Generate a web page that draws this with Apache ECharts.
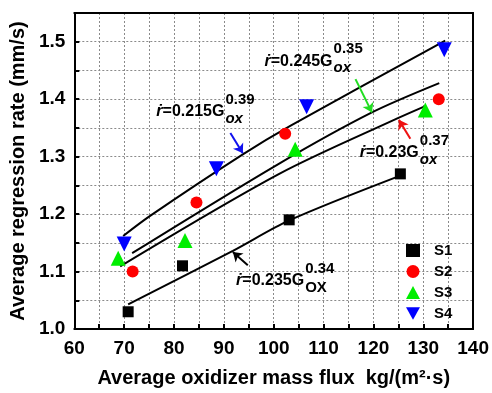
<!DOCTYPE html>
<html><head><meta charset="utf-8">
<script src="https://cdn.jsdelivr.net/npm/echarts@6/dist/echarts.min.js"></script>
<style>html,body{margin:0;padding:0;background:#fff}#c{width:492px;height:393px}</style>
</head><body><div id="c"></div>
<script>
// ---- data ----
const xTickValues = [60, 70, 80, 90, 100, 110, 120, 130, 140];
const yTickValues = [1.0, 1.1, 1.2, 1.3, 1.4, 1.5];
const seriesNames = ['S1', 'S2', 'S3', 'S4'];
const s1X = [70.8, 81.7, 103.1, 125.4];
const s1Y = [1.03, 1.11, 1.19, 1.27];
const s2X = [71.7, 84.5, 102.3, 133.1];
const s2Y = [1.10, 1.22, 1.34, 1.40];
const s3X = [68.8, 82.2, 104.3, 130.4];
const s3Y = [1.123, 1.154, 1.313, 1.381];
const s4X = [70.0, 88.5, 106.6, 134.2];
const s4Y = [1.148, 1.279, 1.387, 1.486];
// fitted curves as drawn
const fitAX = [69.8, 75.2, 93.8, 103.4, 134.4];
const fitAY = [1.162, 1.197, 1.304, 1.354, 1.502];
const fitBX = [71.6, 101.1, 119.7, 133.2];
const fitBY = [1.132, 1.288, 1.377, 1.428];
const fitCX = [69.2, 101.1, 124.9, 130.4];
const fitCY = [1.109, 1.270, 1.367, 1.388];
const fitDX = [70.8, 91.8, 103.1, 125.4];
const fitDY = [1.043, 1.136, 1.189, 1.267];
// annotation texts: coefficient, exponent, subscript, anchor (x,y), arrow from/to, arrow colour
const annCoef = ['0.215', '0.245', '0.23', '0.235'];
const annExp = ['0.39', '0.35', '0.37', '0.34'];
const annSub = ['ox', 'ox', 'ox', 'OX'];
const annAnchorX = [90.1, 111.8, 129.1, 106.1];
const annAnchorY = [1.378, 1.466, 1.307, 1.084];
const arrowFromX = [91.3, 116.4, 127.4, 94.8];
const arrowFromY = [1.341, 1.435, 1.331, 1.111];
const arrowToX = [93.8, 119.7, 125.1, 91.8];
const arrowToY = [1.306, 1.377, 1.364, 1.134];
const arrowColors = ['#1010ee', '#22dd22', '#ee1111', '#000000'];

const FONT = '"Liberation Sans", Arial, sans-serif';
const zip = (a, b) => a.map((v, i) => [v, b[i]]);
const chart = echarts.init(document.getElementById('c'));

function fitSeries(xs, ys, k) {
  return {
    type: 'line', name: 'fit' + k, data: zip(xs, ys), smooth: 0.3,
    showSymbol: false, symbol: 'none', z: 3, silent: true,
    lineStyle: { color: '#000', width: 2 }
  };
}
const arrowSeries = {
  type: 'scatter', name: 'arrows', data: [], silent: true, z: 4,
  markLine: {
    silent: true, symbol: ['none', 'arrow'], symbolSize: 9, precision: 4,
    label: { show: false }, animation: false,
    data: arrowColors.map((c, k) => [
      { coord: [arrowFromX[k], arrowFromY[k]], lineStyle: { color: c, width: 2, type: 'solid' }, itemStyle: { color: c } },
      { coord: [arrowToX[k], arrowToY[k]] }
    ])
  }
};
const colors = ['#000000', '#ff0000', '#00ee00', '#0000ff'];
const symbols = ['rect', 'circle', 'triangle', 'path://M0,0 L10,0 L5,9 Z'];
const sizes = [11, 12, 15, 15];
const pts = [zip(s1X, s1Y), zip(s2X, s2Y), zip(s3X, s3Y), zip(s4X, s4Y)];

const xMin = xTickValues[0], xMax = xTickValues[xTickValues.length - 1];
const yMin = yTickValues[0], yMax = 1.55;
const isMajor = (v, step) => Math.abs(v / step - Math.round(v / step)) < 1e-6;

function mainAxis() {
  return {
    type: 'value',
    axisLine: { show: true, onZero: false, lineStyle: { color: '#000', width: 2 } },
    axisTick: { show: true, inside: true, length: 5, lineStyle: { color: '#000', width: 2 } },
    splitLine: { show: true, lineStyle: { color: '#8a8a8a', type: [2, 2], width: 1 } },
    nameTextStyle: { fontFamily: FONT, fontWeight: 'bold', fontSize: 20, color: '#000' }
  };
}
const frameAxis = (type, pos) => ({
  type: 'value', position: pos, min: type === 'x' ? xMin : yMin, max: type === 'x' ? xMax : yMax,
  axisLine: { show: true, onZero: false, lineStyle: { color: '#000', width: 2 } },
  axisTick: { show: false }, axisLabel: { show: false }, splitLine: { show: false }
});

chart.setOption({
  animation: false,
  backgroundColor: '#fff',
  grid: { left: 74, right: 16, top: 13, bottom: 58 },
  xAxis: [Object.assign(mainAxis(), {
    position: 'bottom', min: xMin, max: xMax, interval: 5,
    name: 'Average oxidizer mass flux  kg/(m²·s)', nameLocation: 'middle', nameGap: 39,
    axisLabel: { fontFamily: FONT, fontWeight: 'bold', fontSize: 19, color: '#000', margin: 10,
      formatter: v => (isMajor(v, 10) ? String(v) : '') }
  }), frameAxis('x', 'top')],
  yAxis: [Object.assign(mainAxis(), {
    position: 'left', min: yMin, max: yMax, interval: 0.05,
    name: 'Average regression rate (mm/s)', nameLocation: 'middle', nameGap: 41,
    axisLabel: { fontFamily: FONT, fontWeight: 'bold', fontSize: 19, color: '#000', margin: 9,
      formatter: v => (isMajor(v, 0.1) ? v.toFixed(1) : '') }
  }), frameAxis('y', 'right')],
  legend: {
    orient: 'vertical', left: 401, top: 238, itemWidth: 14, itemHeight: 13, itemGap: 6,
    data: seriesNames,
    textStyle: { fontFamily: FONT, fontWeight: 'bold', fontSize: 15, lineHeight: 13, color: '#000', padding: [0, 0, 0, 9] }
  },
  series: [
    fitSeries(fitAX, fitAY, 0), fitSeries(fitBX, fitBY, 1),
    fitSeries(fitCX, fitCY, 2), fitSeries(fitDX, fitDY, 3), arrowSeries
  ].concat(seriesNames.map((n, i) => ({
    type: 'scatter', name: n, data: pts[i], symbol: symbols[i], symbolSize: sizes[i], z: 5,
    itemStyle: { color: colors[i], opacity: 1 }
  })))
});

// annotations r = a G^n
const graphics = [];
for (let k = 0; k < annCoef.length; k++) {
  const p = chart.convertToPixel({ xAxisIndex: 0, yAxisIndex: 0 }, [annAnchorX[k], annAnchorY[k]]);
  graphics.push({
    type: 'text', x: p[0], y: p[1], z: 10,
    style: { text: '{i|ṙ}=' + annCoef[k] + 'G', align: 'right', verticalAlign: 'middle',
      font: 'bold 16px ' + FONT, fill: '#000',
      rich: { i: { fontStyle: 'italic', fontWeight: 'bold', fontSize: 16, fontFamily: FONT } } }
  });
  graphics.push({
    type: 'text', x: p[0] + 1, y: p[1] - 12, z: 10,
    style: { text: annExp[k], align: 'left', verticalAlign: 'middle', font: 'bold 15px ' + FONT, fill: '#000' }
  });
  graphics.push({
    type: 'text', x: p[0] + 1, y: p[1] + 7, z: 10,
    style: { text: annSub[k], align: 'left', verticalAlign: 'middle',
      font: (k < 3 ? 'italic ' : '') + 'bold 15px ' + FONT, fill: '#000' }
  });
}
chart.setOption({ graphic: graphics });
</script></body></html>
